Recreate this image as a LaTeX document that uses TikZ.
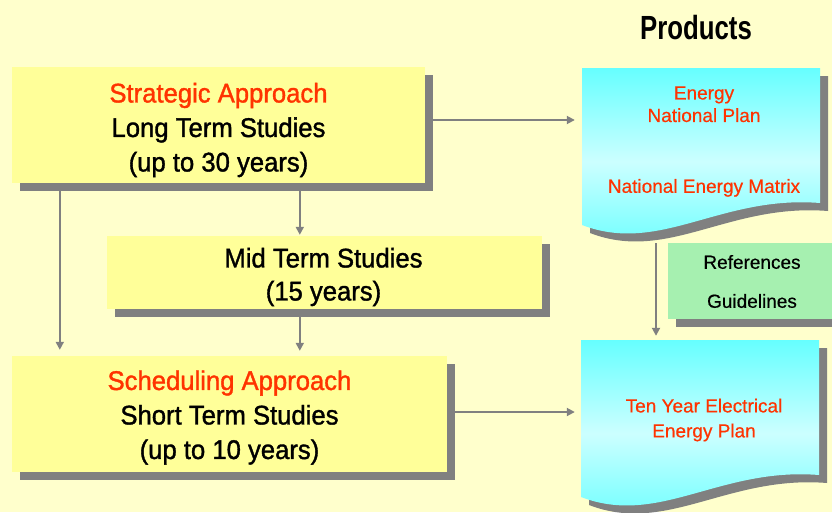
\documentclass[tikz,border=0pt]{standalone}
\usepackage{fontspec}
\setmainfont{Liberation Sans}
\newfontfamily\prodfont{Liberation Sans}[FakeStretch=0.77]
\newfontfamily\boxfont{Liberation Sans}[FakeBold=1.3,FakeStretch=0.95]
\newfontfamily\smallfont{Liberation Sans}[FakeBold=0.5]
\usetikzlibrary{shadows,arrows.meta}
\definecolor{bg}{RGB}{255,255,204}
\definecolor{boxyellow}{RGB}{255,255,153}
\definecolor{shadowgray}{RGB}{128,128,128}
\definecolor{redtext}{RGB}{255,51,0}
\definecolor{cyantop}{RGB}{102,255,255}
\definecolor{cyanmid}{RGB}{204,255,255}
\definecolor{greenfill}{RGB}{166,240,176}
\definecolor{linegray}{RGB}{128,128,128}
\tikzset{
  docshape/.pic={
    \fill[shadowgray] (8,8) -- (246,8) -- (246,143) .. controls (146,135) and (86,195) .. (8,165) -- cycle;
    \shade[top color=cyantop,bottom color=cyantop,middle color=cyanmid] (0,0) -- (238,0) -- (238,135) .. controls (138,127) and (78,187) .. (0,157) -- cycle;
  }
}
\begin{document}
\begin{tikzpicture}[x=1pt,y=-1pt,
  yellowbox/.style={fill=boxyellow,draw=none,inner sep=0pt,
    drop shadow={shadow xshift=8pt,shadow yshift=-8pt,fill=shadowgray,opacity=1}},
  greenbox/.style={fill=greenfill,draw=none,inner sep=0pt,
    drop shadow={shadow xshift=8pt,shadow yshift=-8pt,fill=shadowgray,opacity=1}},
  area/.style={draw=none,fill=none,inner sep=0pt},
  maintext/.style={font=\boxfont\fontsize{27}{34.5}\selectfont,align=center,inner sep=0pt},
  smalltext/.style={font=\smallfont\fontsize{19}{22.5}\selectfont,align=center,inner sep=0pt},
  conn/.style={draw=linegray,line width=1.8pt,-{Triangle[length=8pt,width=8pt]}}
]
\useasboundingbox (0,0) rectangle (832,512);
\clip (0,0) rectangle (832,512);
\fill[bg] (0,0) rectangle (832,512);

% green box
\node[greenbox,minimum width=168pt,minimum height=76pt] (gd) at (752,281) {};

% document shapes
\pic at (582,68) {docshape};
\pic at (581,340) {docshape};
\node[area,minimum width=238pt,minimum height=157pt] (ep) at (701,146.5) {};
\node[area,minimum width=238pt,minimum height=157pt] (tp) at (700,418.5) {};

% yellow boxes
\node[yellowbox,minimum width=413pt,minimum height=116pt] (st) at (218.5,125) {};
\node[yellowbox,minimum width=435pt,minimum height=73pt] (md) at (324.5,272.5) {};
\node[yellowbox,minimum width=435pt,minimum height=116pt] (sc) at (229.5,414) {};

% connectors
\coordinate (c1) at ([xshift=48pt]st.south west);
\coordinate (c2) at ([xshift=288pt]st.south west);
\coordinate (c3) at ([yshift=5pt]st.east);
\coordinate (c4) at ([xshift=-45pt]ep.south);
\coordinate (c5) at ([yshift=2pt]sc.east);
\draw[conn,shorten >=7pt] (c3) -- (c3 -| ep.west);
\draw[conn,shorten >=1pt] (c2) -- (c2 |- md.north);
\draw[conn,shorten >=5pt] (c2 |- md.south) -- (c2 |- sc.north);
\draw[conn,shorten >=6pt] (c1) -- (c1 |- sc.north);
\draw[conn,shorten >=6pt] (c5) -- (c5 -| tp.west);
\draw[conn,shorten <=18pt,shorten >=4pt] (c4) -- (c4 |- tp.north);

% texts
\node[font=\prodfont\bfseries\fontsize{33.5}{40}\selectfont,anchor=base,inner sep=0pt] (prod) at (696,39) {Products};
\node[maintext] (st-l) at (218.5,130) {\textcolor{redtext}{Strategic Approach}\\Long Term Studies\\(up to 30 years)};
\node[maintext,font=\boxfont\fontsize{27}{33}\selectfont] (md-l) at (323.5,277) {Mid Term Studies\\(15 years)};
\node[maintext] (sc-l) at (229.5,417.5) {\textcolor{redtext}{Scheduling Approach}\\Short Term Studies\\(up to 10 years)};
\node[smalltext,text=redtext] (ep-l1) at (704,104.3) {Energy\\National Plan};
\node[smalltext,text=redtext,anchor=base] (ep-l2) at (704,192.8) {National Energy Matrix};
\node[smalltext,text=redtext,font=\smallfont\fontsize{19}{25}\selectfont] (tp-l) at (704,420) {Ten Year Electrical\\Energy Plan};
\node[smalltext,font=\smallfont\fontsize{19}{39}\selectfont] (gd-l) at (752,281.5) {References\\Guidelines};
\end{tikzpicture}
\end{document}
